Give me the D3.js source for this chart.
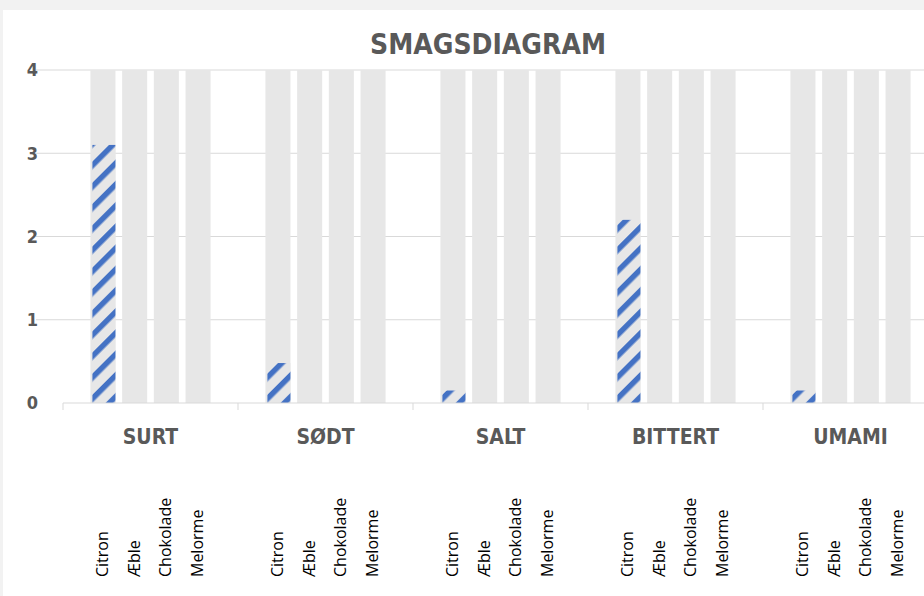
<!DOCTYPE html>
<html>
<head>
<meta charset="utf-8">
<script src="https://cdn.jsdelivr.net/npm/d3@7"></script>
<style>
  body { margin: 0; background: #f2f2f2; }
  svg { display: block; }
</style>
</head>
<body>
<div id="chart"></div>
<script>
// data
const groups = ["SURT", "SØDT", "SALT", "BITTERT", "UMAMI"];
const fruits = ["Citron", "Æble", "Chokolade", "Melorme"];
const citron = [3.1, 0.48, 0.15, 2.2, 0.15];
const aeble = [0, 0, 0, 0, 0];
const chokolade = [0, 0, 0, 0, 0];
const melorme = [0, 0, 0, 0, 0];
const baggrund = [4, 4, 4, 4, 4];
const yTicks = [0, 1, 2, 3, 4];

const series = { "Citron": citron, "Æble": aeble, "Chokolade": chokolade, "Melorme": melorme };

const width = 924;
const height = 596;
const margin = { top: 70, bottom: 193, left: 63, right: -14 };

const svg = d3.select("#chart")
  .append("svg")
  .attr("width", width)
  .attr("height", height);

// white chart area
svg.append("rect")
  .attr("x", 3).attr("y", 10)
  .attr("width", width - 3).attr("height", height - 10)
  .attr("fill", "#ffffff");

const defs = svg.append("defs");
const pat = defs.append("pattern")
  .attr("id", "hatch")
  .attr("patternUnits", "userSpaceOnUse")
  .attr("width", 15).attr("height", 15)
  .attr("patternTransform", "rotate(45)");
pat.append("rect").attr("width", 15).attr("height", 15).attr("fill", "#e7e7e7");
pat.append("rect").attr("x", 0).attr("width", 5.5).attr("height", 15).attr("fill", "#4472c4");

const x0 = d3.scaleBand()
  .domain(groups)
  .range([margin.left, width - margin.right]);

const x1 = d3.scaleBand()
  .domain(fruits)
  .range([0, x0.bandwidth()])
  .paddingInner(0.21)
  .paddingOuter(0.865);

const y = d3.scaleLinear()
  .domain([0, 4])
  .range([height - margin.bottom, margin.top]);

// gridlines
svg.append("g")
  .selectAll("line")
  .data(yTicks.slice(1))
  .enter()
  .append("line")
  .attr("x1", 36).attr("x2", width)
  .attr("y1", d => y(d)).attr("y2", d => y(d))
  .attr("stroke", "#d9d9d9")
  .attr("stroke-width", 1);

// y labels
svg.append("g")
  .selectAll("text")
  .data(yTicks)
  .enter()
  .append("text")
  .attr("x", 38)
  .attr("y", d => y(d))
  .attr("dy", "0.36em")
  .attr("text-anchor", "end")
  .attr("font-family", "'DejaVu Sans Condensed', sans-serif")
  .attr("font-weight", "bold")
  .attr("font-size", "18px")
  .attr("fill", "#595959")
  .text(d => d);

const g = svg.append("g")
  .selectAll("g")
  .data(groups)
  .enter()
  .append("g")
  .attr("transform", d => `translate(${x0(d)},0)`);

// background bars
g.selectAll(".bg")
  .data((d, i) => fruits.map(f => ({ f: f, v: baggrund[i] })))
  .enter()
  .append("rect")
  .attr("class", "bg")
  .attr("x", d => x1(d.f))
  .attr("y", d => y(d.v))
  .attr("width", x1.bandwidth())
  .attr("height", d => y(0) - y(d.v))
  .attr("fill", "#e7e7e7");

// value bars
g.selectAll(".val")
  .data((d, i) => fruits.map(f => ({ f: f, v: series[f][i] })))
  .enter()
  .append("rect")
  .attr("class", "val")
  .attr("x", d => x1(d.f) + 2)
  .attr("y", d => y(d.v))
  .attr("width", x1.bandwidth() - 2)
  .attr("height", d => y(0) - y(d.v))
  .attr("fill", "url(#hatch)");

// x axis line + ticks
svg.append("line")
  .attr("x1", margin.left).attr("x2", width)
  .attr("y1", y(0)).attr("y2", y(0))
  .attr("stroke", "#d9d9d9");
svg.append("g")
  .selectAll("line")
  .data(groups)
  .enter()
  .append("line")
  .attr("x1", d => x0(d)).attr("x2", d => x0(d))
  .attr("y1", y(0)).attr("y2", y(0) + 7)
  .attr("stroke", "#d9d9d9");

// group labels
svg.append("g")
  .selectAll("text")
  .data(groups)
  .enter()
  .append("text")
  .attr("x", d => x0(d) + x0.bandwidth() / 2)
  .attr("y", 444)
  .attr("text-anchor", "middle")
  .attr("font-family", "'DejaVu Sans Condensed', sans-serif")
  .attr("font-weight", "bold")
  .attr("font-size", "21px")
  .attr("fill", "#595959")
  .text(d => d);

// fruit labels
g.selectAll(".lbl")
  .data(fruits)
  .enter()
  .append("text")
  .attr("class", "lbl")
  .attr("transform", d => `translate(${x1(d) + x1.bandwidth() / 2 + 5},577) rotate(-90)`)
  .attr("font-family", "'Open Sans', sans-serif")
  .attr("font-size", "16px")
  .attr("fill", "#000000")
  .text(d => d);

// title
svg.append("text")
  .attr("x", 488)
  .attr("y", 54)
  .attr("text-anchor", "middle")
  .attr("font-family", "'DejaVu Sans Condensed', sans-serif")
  .attr("font-weight", "bold")
  .attr("font-size", "28px")
  .attr("fill", "#595959")
  .text("SMAGSDIAGRAM");
</script>
</body>
</html>
